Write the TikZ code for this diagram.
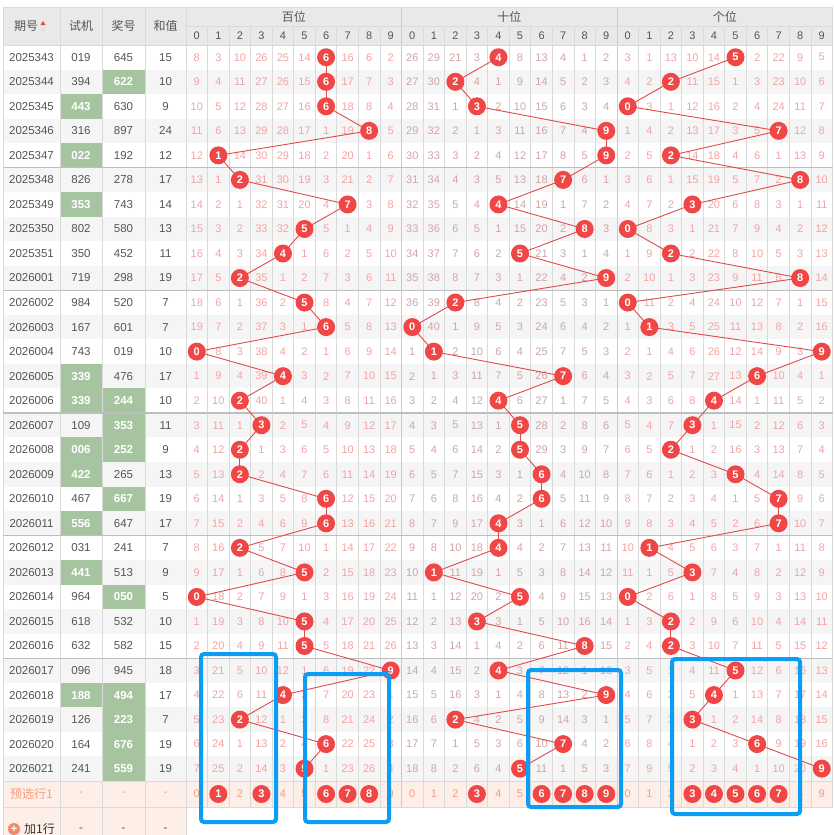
\documentclass[tikz,border=0pt]{standalone}
\usepackage{fontspec}
\setmainfont{Liberation Sans}
\newfontfamily\cjk{Noto Sans CJK SC}
\foreach \p in {1,2,3}{\foreach \d in {0,...,9}{\newcounter{c\p\d}}}
\definecolor{hdrbg}{HTML}{E9E9E9}
\definecolor{hdrtext}{HTML}{555555}
\definecolor{rowalt}{HTML}{F5F5F5}
\definecolor{gridline}{HTML}{DADADA}
\definecolor{grpline}{HTML}{BEBEBE}
\definecolor{greencell}{HTML}{A7C4A0}
\definecolor{numA}{HTML}{F4A3A3}
\definecolor{numB}{HTML}{CFA6A6}
\definecolor{ballred}{HTML}{F04646}
\definecolor{linkred}{HTML}{E04A4A}
\definecolor{preBg}{HTML}{FDEEE7}
\definecolor{preText}{HTML}{F2A07C}
\definecolor{boxblue}{HTML}{0B9CF4}
\definecolor{plusor}{HTML}{F08A68}
\pgfdeclarelayer{bg}
\pgfdeclarelayer{lines}
\pgfdeclarelayer{balls}
\pgfdeclarelayer{top}
\pgfsetlayers{bg,main,lines,balls,top}
\begin{document}
\begin{tikzpicture}[x=1pt,y=-1pt,
  num1/.style={text=numA,font=\fontsize{11}{11}\selectfont,inner sep=0},
  num2/.style={text=numB,font=\fontsize{11}{11}\selectfont,inner sep=0},
  num3/.style={text=numA,font=\fontsize{11}{11}\selectfont,inner sep=0},
  ball/.style={circle,fill=ballred,text=white,font=\bfseries\fontsize{11}{11}\selectfont,inner sep=0,minimum size=18pt},
  link/.style={draw=linkred,line width=0.9pt},
  celltext/.style={text=hdrtext,font=\fontsize{11.5}{12}\selectfont,inner sep=0},
  greentext/.style={text=white,font=\bfseries\fontsize{11.5}{12}\selectfont,inner sep=0},
  hdr/.style={text=hdrtext,font=\cjk\fontsize{12}{12}\selectfont,inner sep=0},
  hdrdigit/.style={text=hdrtext,font=\fontsize{11}{11}\selectfont,inner sep=0},
  pretext/.style={text=preText,font=\fontsize{11}{11}\selectfont,inner sep=0},
  vline/.style={draw=gridline,line width=0.8pt},
  gline/.style={draw=grpline,line width=1.1pt},
  bluebox/.style={draw=boxblue,line width=4pt,rounded corners=3pt}]
\useasboundingbox (0,0) rectangle (834,835);
\begin{pgfonlayer}{bg}
\fill[white] (0,0) rectangle (834,835);
\fill[hdrbg] (3,7) rectangle (832.5,45);
\foreach \r in {2,4,...,30} \fill[rowalt] (3,{45+24.53*(\r-1)}) rectangle (832.5,{45+24.53*\r});
\fill[preBg] (3,781) rectangle (832.5,807);
\fill[preBg] (3,807) rectangle (186,835);
\foreach \r/\gs/\gj in {2/0/1,3/1/0,5/1/0,7/1/0,14/1/0,15/1/1,16/0/1,17/1/1,18/1/0,19/0/1,20/1/0,22/1/0,23/0/1,27/1/1,28/0/1,29/0/1,30/0/1}{
  \ifnum\gs=1 \fill[greencell] (60,{45+24.53*(\r-1)}) rectangle (102,{45+24.53*\r}); \fi
  \ifnum\gj=1 \fill[greencell] (102,{45+24.53*(\r-1)}) rectangle (145,{45+24.53*\r}); \fi
}
% grid lines
\foreach \x in {60,102,145,186} \draw[vline] (\x,7) -- (\x,835);
\draw[vline] (3,7) -- (3,835);
\foreach \k in {1,...,9,11,12,...,19,21,22,...,29} \draw[vline] ({186+21.55*\k},26) -- ({186+21.55*\k},807);
\foreach \k in {10,20} \draw[vline,draw=grpline!80] ({186+21.55*\k},7) -- ({186+21.55*\k},807);
\draw[vline] (832.5,7) -- (832.5,807);
\draw[vline] (3,7) -- (832.5,7);
\draw[vline] (186,26) -- (832.5,26);
\draw[vline] (3,45) -- (832.5,45);
\foreach \m in {1,...,5} \draw[gline] (3,{45+24.53*5*\m}) -- (832.5,{45+24.53*5*\m});
\draw[vline] (3,781) -- (832.5,781);
\draw[vline] (3,807) -- (832.5,807);
\end{pgfonlayer}
% header
\node[hdr] (hq) at (26,26) {期号};
\fill[linkred] (40.5,25) -- (45.5,25) -- (43,21) -- cycle;
\fill[gridline!80!black!40] (40.5,27.5) -- (45.5,27.5) -- (43,31.5) -- cycle;
\node[hdr] (hs) at (81,26) {试机};
\node[hdr] (hj) at (123.5,26) {奖号};
\node[hdr] (hh) at (165.5,26) {和值};
\node[hdr] (g1) at (293.75,16.5) {百位};
\node[hdr] (g2) at (509.25,16.5) {十位};
\node[hdr] (g3) at (724.75,16.5) {个位};
\foreach \k in {0,...,29}{
  \pgfmathtruncatemacro\dd{mod(\k,10)}
  \node[hdrdigit] (hd\k) at ({186+21.55*(\k+0.5)},35.5) {\dd};
}
% left columns
\foreach \q/\s/\j/\h/\gs/\gj [count=\r] in {
2025343/019/645/15/0/0, 2025344/394/622/10/0/1, 2025345/443/630/9/1/0, 2025346/316/897/24/0/0, 2025347/022/192/12/1/0,
2025348/826/278/17/0/0, 2025349/353/743/14/1/0, 2025350/802/580/13/0/0, 2025351/350/452/11/0/0, 2026001/719/298/19/0/0,
2026002/984/520/7/0/0, 2026003/167/601/7/0/0, 2026004/743/019/10/0/0, 2026005/339/476/17/1/0, 2026006/339/244/10/1/1,
2026007/109/353/11/0/1, 2026008/006/252/9/1/1, 2026009/422/265/13/1/0, 2026010/467/667/19/0/1, 2026011/556/647/17/1/0,
2026012/031/241/7/0/0, 2026013/441/513/9/1/0, 2026014/964/050/5/0/1, 2026015/618/532/10/0/0, 2026016/632/582/15/0/0,
2026017/096/945/18/0/0, 2026018/188/494/17/1/1, 2026019/126/223/7/0/1, 2026020/164/676/19/0/1, 2026021/241/559/19/0/1}{
  \pgfmathsetmacro\yy{45+24.53*(\r-0.5)}
  \node[celltext] (q\r) at (31.5,\yy) {\q};
  \ifnum\gs=1 \node[greentext] (s\r) at (81,\yy) {\s}; \else \node[celltext] (s\r) at (81,\yy) {\s}; \fi
  \ifnum\gj=1 \node[greentext] (j\r) at (123.5,\yy) {\j}; \else \node[celltext] (j\r) at (123.5,\yy) {\j}; \fi
  \node[celltext] (h\r) at (165.5,\yy) {\h};
}
% initial omission counters
\foreach \d/\v in {0/7,1/2,2/9,3/25,4/24,5/13,6/0,7/15,8/5,9/1} {\setcounter{c1\d}{\v}}
\foreach \d/\v in {0/25,1/28,2/20,3/2,4/0,5/7,6/12,7/3,8/0,9/1} {\setcounter{c2\d}{\v}}
\foreach \d/\v in {0/2,1/0,2/12,3/9,4/13,5/0,6/1,7/21,8/8,9/4} {\setcounter{c3\d}{\v}}
% omission grid
\foreach \a/\b/\c [count=\r] in {6/4/5,6/2/2,6/3/0,8/9/7,1/9/2,2/7/8,7/4/3,5/8/0,4/5/2,2/9/8,5/2/0,6/0/1,0/1/9,4/7/6,2/4/4,3/5/3,2/5/2,2/6/5,6/6/7,6/4/7,2/4/1,5/1/3,0/5/0,5/3/2,5/8/2,9/4/5,4/9/4,2/2/3,6/7/6,5/5/9}{
  \pgfmathsetmacro\yy{45+24.53*(\r-0.5)}
  \foreach \p/\hh in {1/\a,2/\b,3/\c}{
    \foreach \d in {0,...,9}{
      \pgfmathsetmacro\xx{186+21.55*((\p-1)*10+\d+0.5)}
      \ifnum\d=\hh\relax
        \setcounter{c\p\d}{0}
        \begin{pgfonlayer}{balls}\node[ball] (b\p-\r) at (\xx,\yy) {\d};\end{pgfonlayer}
      \else
        \addtocounter{c\p\d}{1}
        \node[num\p] (n\p-\d-\r) at (\xx,\yy) {\arabic{c\p\d}};
      \fi
    }
  }
}
\begin{pgfonlayer}{lines}
\foreach \p in {1,2,3}{
  \foreach \r [remember=\r as \s (initially 1)] in {2,...,30}{
    \draw[link] (b\p-\s.center) -- (b\p-\r.center);
  }
}
\end{pgfonlayer}
% preselection row
\node[text=preText,font=\cjk\fontsize{12}{12}\selectfont,inner sep=0] (pre) at (31.5,794) {预选行1};
\node[pretext] (pres) at (81,794) {-};
\node[pretext] (prej) at (123.5,794) {-};
\node[pretext] (preh) at (165.5,794) {-};
\foreach \p/\sel in {1/{1,3,6,7,8},2/{3,6,7,8,9},3/{3,4,5,6,7}}{
  \foreach \d in {0,...,9}{
    \pgfmathsetmacro\xx{186+21.55*((\p-1)*10+\d+0.5)}
    \def\hit{0}
    \foreach \t in \sel {\ifnum\t=\d \gdef\hit{1}\fi}
    \ifnum\hit=1
      \begin{pgfonlayer}{balls}\node[ball] (pb\p-\d) at (\xx,794) {\d};\end{pgfonlayer}
    \else
      \node[pretext] (pn\p-\d) at (\xx,794) {\d};
    \fi
    \gdef\hit{0}
  }
}
% add row
\node[circle,fill=plusor,minimum size=12pt,inner sep=0,text=white,font=\bfseries\fontsize{11}{11}\selectfont] (plus) at (14,829) {+};
\node[text=black!80,font=\cjk\fontsize{12}{12}\selectfont,inner sep=0,anchor=west] (add) at (24,829) {加1行};
\node[celltext] (ads) at (81,830) {-};
\node[celltext] (adj) at (123.5,830) {-};
\node[celltext] (adh) at (165.5,830) {-};
% blue boxes
\begin{pgfonlayer}{top}
\draw[bluebox] (201,654) rectangle (276,822);
\draw[bluebox] (305,674) rectangle (389,822);
\draw[bluebox] (528,670) rectangle (621,807);
\draw[bluebox] (672,659) rectangle (800,814);
\end{pgfonlayer}
\end{tikzpicture}
\end{document}
